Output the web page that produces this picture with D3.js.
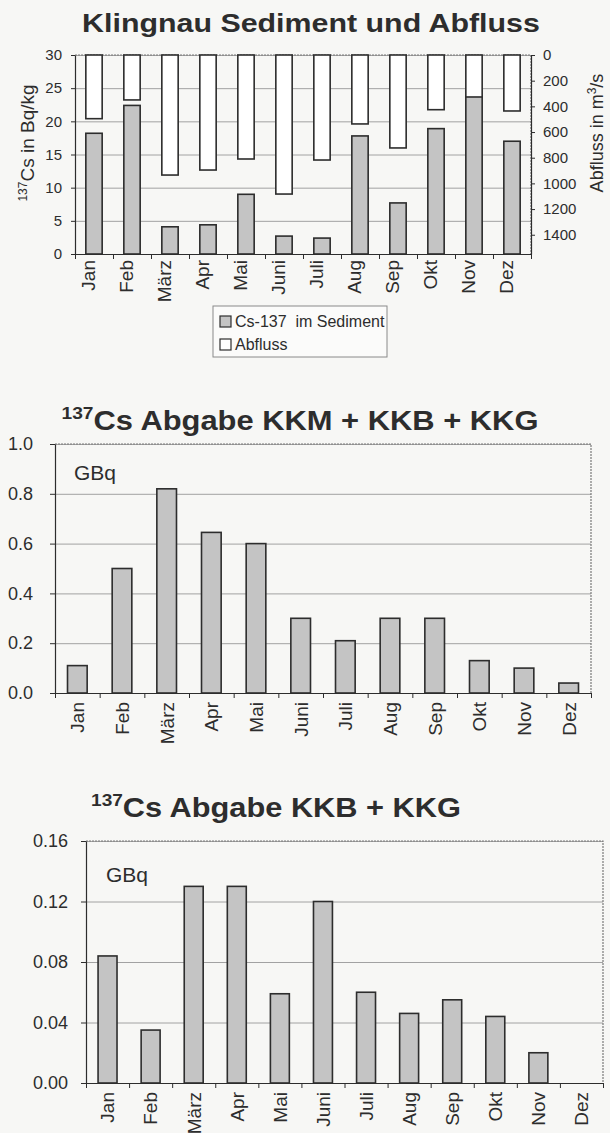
<!DOCTYPE html>
<html><head><meta charset="utf-8">
<script src="https://cdn.jsdelivr.net/npm/d3@7"></script>
<style>
body{margin:0;background:#f7f7f5;}
svg{display:block;font-family:"Liberation Sans",Arial,sans-serif;}
</style></head><body><svg id="c" width="610" height="1133"></svg>
<script>
// ---------- data ----------
const months = ["Jan","Feb","März","Apr","Mai","Juni","Juli","Aug","Sep","Okt","Nov","Dez"];
// Chart 1: Klingnau Sediment und Abfluss
const csSediment = [18.2, 22.4, 4.1, 4.4, 9.0, 2.7, 2.4, 17.8, 7.7, 18.9, 23.8, 17.0];
const abfluss    = [496, 350, 935, 896, 810, 1083, 818, 537, 724, 426, 327, 436];
const sedTicks   = [0, 5, 10, 15, 20, 25, 30];
const abflussTicks = [0, 200, 400, 600, 800, 1000, 1200, 1400];
const legendLabels = ["Cs-137  im Sediment", "Abfluss"];
// Chart 2: 137Cs Abgabe KKM + KKB + KKG (GBq)
const abgabeAll = [0.11, 0.50, 0.82, 0.645, 0.60, 0.30, 0.21, 0.30, 0.30, 0.13, 0.10, 0.04];
const ticksAll  = [0, 0.2, 0.4, 0.6, 0.8, 1.0];
// Chart 3: 137Cs Abgabe KKB + KKG (GBq)
const abgabeKKBKKG = [0.084, 0.035, 0.13, 0.13, 0.059, 0.12, 0.06, 0.046, 0.055, 0.044, 0.02, 0];
const ticksKKBKKG  = [0, 0.04, 0.08, 0.12, 0.16];

// ---------- style ----------
const INK = "#2d2d2d", GRID = "#a2a2a2", BARFILL = "#c4c4c4", FRAME = "#7a7a7a";
const svg = d3.select("#c");
svg.append("rect").attr("width", 610).attr("height", 1133).attr("fill", "#f7f7f5");

function fitWidth(sel, target, cx) {
  const w = sel.node().getBBox().width;
  const s = target / w;
  sel.attr("transform", `translate(${cx},0) scale(${s},1) translate(${-cx},0)`);
}

function title(parts, cx, baseline, target, size) {
  const t = svg.append("text").attr("x", cx).attr("y", baseline)
    .attr("text-anchor", "middle").attr("font-weight", "bold").attr("fill", INK);
  parts.forEach(p => {
    t.append("tspan").text(p.text).attr("font-size", p.sup ? size * 0.62 : size)
      .attr("dy", p.dy || 0);
  });
  fitWidth(t, target, cx);
}

function styleAxis(g, fontSize) {
  g.selectAll("path.domain").attr("stroke", INK).attr("stroke-width", 1.2);
  g.selectAll(".tick line").attr("stroke", INK);
  g.selectAll("text").attr("fill", INK).attr("font-size", fontSize)
    .attr("font-family", '"Liberation Sans",Arial,sans-serif');
}

function grid(y, ticks, left, right) {
  const g = svg.append("g").attr("transform", `translate(${left},0)`)
    .call(d3.axisLeft(y).tickValues(ticks).tickSize(-(right - left)).tickFormat(""));
  g.select(".domain").remove();
  g.selectAll(".tick line").attr("stroke", GRID).attr("stroke-width", 1);
}

function bottomAxis(x, box, labelOffsetY, labelDx, labelDy, fontSize) {
  const xt = d3.scaleLinear().domain([0, months.length]).range([box.left, box.right]);
  const g = svg.append("g").attr("transform", `translate(0,${box.bottom})`)
    .call(d3.axisBottom(xt).tickValues(d3.range(months.length + 1)).tickSize(5).tickFormat("").tickSizeOuter(0));
  styleAxis(g, fontSize);
  const gl = svg.append("g").attr("transform", `translate(0,${box.bottom})`)
    .call(d3.axisBottom(x).tickSize(0).tickPadding(0));
  gl.select(".domain").remove();
  gl.selectAll(".tick text")
    .attr("transform", `translate(${labelDx},${labelOffsetY}) rotate(-90)`)
    .attr("text-anchor", "end").attr("x", 0).attr("y", 0).attr("dy", labelDy);
  styleAxis(gl, fontSize);
}

function frame(box) {
  svg.append("path")
    .attr("d", `M${box.left},${box.top}H${box.right}V${box.bottom}`)
    .attr("fill", "none").attr("stroke", FRAME).attr("stroke-width", 1.2)
    .attr("stroke-dasharray", "2,1");
}

// ---------- Chart 1 ----------
{
  const box = {left: 75, right: 531, top: 55, bottom: 254};
  const x = d3.scaleBand().domain(months).range([box.left, box.right]).paddingInner(0.57).paddingOuter(0.285);
  const y = d3.scaleLinear().domain([0, 30]).range([box.bottom, box.top]);
  const yR = d3.scaleLinear().domain([0, 1550]).range([box.top, box.bottom]);

  title([{text: "Klingnau Sediment und Abfluss"}], 311, 32, 458, 26);
  grid(y, sedTicks.slice(1), box.left, box.right);
  frame(box);

  svg.append("g").selectAll("rect").data(months).join("rect")
    .attr("x", d => x(d)).attr("width", x.bandwidth())
    .attr("y", (d, i) => y(csSediment[i])).attr("height", (d, i) => y(0) - y(csSediment[i]))
    .attr("fill", BARFILL).attr("stroke", INK).attr("stroke-width", 1.6);
  svg.append("g").selectAll("rect").data(months).join("rect")
    .attr("x", d => x(d)).attr("width", x.bandwidth())
    .attr("y", yR(0)).attr("height", (d, i) => yR(abfluss[i]) - yR(0))
    .attr("fill", "#ffffff").attr("stroke", INK).attr("stroke-width", 1.6);

  const gl = svg.append("g").attr("transform", `translate(${box.left},0)`)
    .call(d3.axisLeft(y).tickValues(sedTicks).tickSize(4).tickPadding(9).tickSizeOuter(0));
  styleAxis(gl, 15);
  const gr = svg.append("g").attr("transform", `translate(${box.right},0)`)
    .call(d3.axisRight(yR).tickValues(abflussTicks).tickFormat(d3.format("d")).tickSize(4).tickPadding(8).tickSizeOuter(0));
  styleAxis(gr, 15);
  bottomAxis(x, box, 6, 1, "0em", 19);

  // axis titles
  const lt = svg.append("text").attr("transform", "translate(34,143) rotate(-90)")
    .attr("text-anchor", "middle").attr("fill", INK);
  lt.append("tspan").text("137").attr("font-size", 12).attr("dy", -7);
  lt.append("tspan").text("Cs in Bq/kg").attr("font-size", 19).attr("dy", 7);
  const rt = svg.append("text").attr("transform", "translate(603,133) rotate(-90)")
    .attr("text-anchor", "middle").attr("fill", INK);
  rt.append("tspan").text("Abfluss in m").attr("font-size", 18);
  rt.append("tspan").text("3").attr("font-size", 12).attr("dy", -7);
  rt.append("tspan").text("/s").attr("font-size", 18).attr("dy", 7);

  // legend
  const lg = svg.append("g");
  lg.append("rect").attr("x", 213).attr("y", 306).attr("width", 174).attr("height", 51)
    .attr("fill", "#fbfbfa").attr("stroke", "#8a8a8a").attr("stroke-width", 1);
  const fills = [BARFILL, "#ffffff"];
  legendLabels.forEach((lab, i) => {
    lg.append("rect").attr("x", 220).attr("y", 316 + i * 23).attr("width", 11).attr("height", 11)
      .attr("fill", fills[i]).attr("stroke", INK).attr("stroke-width", 1.2);
    lg.append("text").attr("x", 235).attr("y", 327 + i * 23).text(lab)
      .attr("font-size", 16).attr("fill", INK).attr("xml:space", "preserve");
  });
}

// ---------- generic bar chart (charts 2, 3) ----------
function gbqChart(cfg) {
  const box = cfg.box;
  const x = d3.scaleBand().domain(months).range([box.left, box.right]).paddingInner(0.56).paddingOuter(0.28);
  const y = d3.scaleLinear().domain(cfg.domain).range([box.bottom, box.top]);
  title([{text: "137", sup: true, dy: -11}, {text: "Cs Abgabe " + cfg.name, dy: 11}], cfg.titleX, cfg.titleY, cfg.titleW, 28);
  grid(y, cfg.ticks.slice(1), box.left, box.right);
  frame(box);
  svg.append("g").selectAll("rect").data(months).join("rect")
    .attr("x", d => x(d)).attr("width", x.bandwidth())
    .attr("y", (d, i) => y(cfg.values[i])).attr("height", (d, i) => y(0) - y(cfg.values[i]))
    .attr("fill", BARFILL).attr("stroke", INK).attr("stroke-width", 1.6)
    .attr("display", (d, i) => cfg.values[i] > 0 ? null : "none");
  const gl = svg.append("g").attr("transform", `translate(${box.left},0)`)
    .call(d3.axisLeft(y).tickValues(cfg.ticks).tickFormat(d3.format(cfg.fmt)).tickSize(5).tickPadding(cfg.pad).tickSizeOuter(0));
  styleAxis(gl, 18);
  bottomAxis(x, box, 9, 0, "0.36em", 19);
  svg.append("text").attr("x", cfg.gbqX).attr("y", cfg.gbqY).text("GBq")
    .attr("font-size", 21).attr("fill", INK);
}

gbqChart({box: {left: 55, right: 591, top: 444, bottom: 693}, domain: [0, 1], ticks: ticksAll, fmt: ".1f",
  values: abgabeAll, name: "KKM + KKB + KKG", titleX: 300, titleY: 430, titleW: 477, pad: 17, gbqX: 74, gbqY: 480});
gbqChart({box: {left: 86, right: 603, top: 841, bottom: 1083}, domain: [0, 0.16], ticks: ticksKKBKKG, fmt: ".2f",
  values: abgabeKKBKKG, name: "KKB + KKG", titleX: 276, titleY: 817, titleW: 370, pad: 13, gbqX: 106, gbqY: 882});
</script></body></html>
